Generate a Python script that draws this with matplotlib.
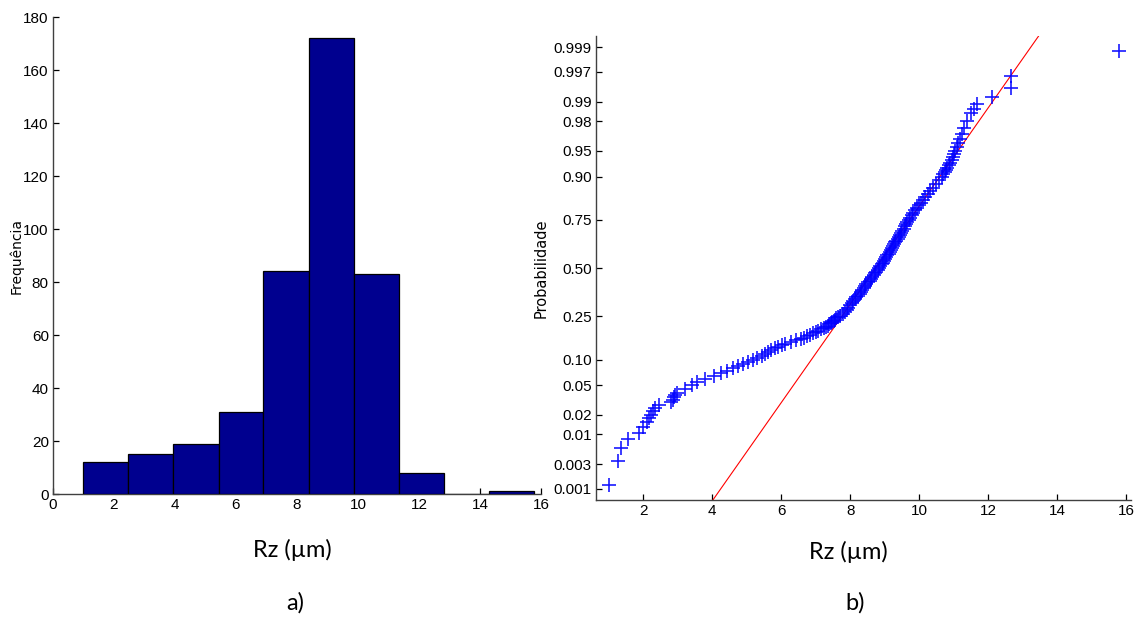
import matplotlib
matplotlib.use("Agg")
import matplotlib.pyplot as plt
import numpy as np
from statistics import NormalDist

# ---- data ----
# histogram of Rz (10 bins, MATLAB hist style)
bin_edges = [0.99, 2.47, 3.95, 5.43, 6.90, 8.38, 9.86, 11.34, 12.81, 14.29, 15.77]
bin_counts = [12, 15, 19, 31, 84, 172, 83, 8, 0, 1]

# normal probability plot: sorted Rz values and their plotting probabilities
rz_points = [
    1.01, 1.26, 1.34, 1.57, 1.88, 1.98, 2.10, 2.17, 2.23, 2.28, 2.33, 2.45,
    2.81, 2.85, 2.88, 2.92, 2.99, 3.22, 3.40, 3.56, 3.78, 4.04, 4.24, 4.42,
    4.59, 4.75, 4.90, 5.04, 5.18, 5.31, 5.43, 5.53, 5.62, 5.71, 5.81, 5.92,
    6.02, 6.12, 6.27, 6.43, 6.57, 6.66, 6.75, 6.84, 6.93, 7.01, 7.08, 7.16,
    7.23, 7.30, 7.35, 7.39, 7.44, 7.48, 7.52, 7.56, 7.60, 7.64, 7.69, 7.79,
    7.86, 7.91, 7.95, 8.00, 8.06, 8.09, 8.14, 8.18, 8.23, 8.27, 8.31, 8.35,
    8.39, 8.43, 8.47, 8.51, 8.56, 8.60, 8.64, 8.68, 8.72, 8.76, 8.80, 8.84,
    8.87, 8.91, 8.94, 8.98, 9.01, 9.05, 9.08, 9.12, 9.15, 9.18, 9.21, 9.24,
    9.28, 9.31, 9.34, 9.38, 9.41, 9.44, 9.48, 9.51, 9.55, 9.58, 9.62, 9.66,
    9.69, 9.73, 9.78, 9.83, 9.88, 9.94, 10.00, 10.06, 10.12, 10.18, 10.25, 10.32,
    10.40, 10.48, 10.56, 10.65, 10.70, 10.75, 10.78, 10.82, 10.86, 10.90, 10.94, 10.98,
    11.02, 11.05, 11.09, 11.13, 11.18, 11.24, 11.30, 11.39, 11.51, 11.59, 11.67, 12.11,
    12.65, 12.65, 15.78,
]
prob_points = [
    0.0012, 0.0035, 0.0059, 0.0082, 0.0106, 0.0129, 0.0153, 0.0176, 0.0200, 0.0224, 0.0247, 0.0271,
    0.0300, 0.0325, 0.0350, 0.0375, 0.0400, 0.0450, 0.0500, 0.0550, 0.0600, 0.0650, 0.0700, 0.0750,
    0.0800, 0.0850, 0.0900, 0.0950, 0.1000, 0.1050, 0.1100, 0.1150, 0.1200, 0.1250, 0.1300, 0.1350,
    0.1400, 0.1450, 0.1500, 0.1550, 0.1600, 0.1650, 0.1700, 0.1750, 0.1800, 0.1850, 0.1900, 0.1950,
    0.2000, 0.2050, 0.2100, 0.2150, 0.2200, 0.2250, 0.2300, 0.2350, 0.2400, 0.2450, 0.2500, 0.2600,
    0.2700, 0.2800, 0.2900, 0.3000, 0.3100, 0.3200, 0.3300, 0.3400, 0.3500, 0.3600, 0.3700, 0.3800,
    0.3900, 0.4000, 0.4100, 0.4200, 0.4300, 0.4400, 0.4500, 0.4600, 0.4700, 0.4800, 0.4900, 0.5000,
    0.5100, 0.5200, 0.5300, 0.5400, 0.5500, 0.5600, 0.5700, 0.5800, 0.5900, 0.6000, 0.6100, 0.6200,
    0.6300, 0.6400, 0.6500, 0.6600, 0.6700, 0.6800, 0.6900, 0.7000, 0.7100, 0.7200, 0.7300, 0.7400,
    0.7500, 0.7600, 0.7700, 0.7800, 0.7900, 0.8000, 0.8100, 0.8200, 0.8300, 0.8400, 0.8500, 0.8600,
    0.8700, 0.8800, 0.8900, 0.9000, 0.9050, 0.9100, 0.9150, 0.9200, 0.9250, 0.9300, 0.9350, 0.9400,
    0.9450, 0.9500, 0.9550, 0.9600, 0.9650, 0.9700, 0.9750, 0.9800, 0.9850, 0.9871, 0.9894, 0.9918,
    0.9941, 0.9965, 0.9988,
]

# reference line of the normal fit, through its quartiles
fit_x = [7.76, 9.72]
fit_p = [0.25, 0.75]

prob_ticks = [0.001, 0.003, 0.01, 0.02, 0.05, 0.10, 0.25, 0.50, 0.75, 0.90, 0.95, 0.98, 0.99, 0.997, 0.999]
prob_labels = ["0.001", "0.003", "0.01", "0.02", "0.05", "0.10", "0.25", "0.50", "0.75",
               "0.90", "0.95", "0.98", "0.99", "0.997", "0.999"]

# ---- normal probability scale ----
_nd = NormalDist()
_ppf = np.vectorize(lambda p: _nd.inv_cdf(min(max(p, 1e-12), 1 - 1e-12)), otypes=[float])
_cdf = np.vectorize(_nd.cdf, otypes=[float])


def to_z(p):
    return _ppf(np.asarray(p, dtype=float))


def from_z(z):
    return _cdf(np.asarray(z, dtype=float))


plt.rcParams["font.family"] = ["Liberation Sans Narrow", "Liberation Sans", "DejaVu Sans"]
label_font = ["Lato", "DejaVu Sans"]
axis_grey = "#404040"

fig = plt.figure(figsize=(11.37, 6.19), dpi=100)

# ---- a) histogram ----
ax1 = fig.add_axes([0.0466, 0.2019, 0.4292, 0.7706])
ax1.bar(bin_edges[:-1], bin_counts, width=np.diff(bin_edges), align="edge",
        color="#00008F", edgecolor="black", linewidth=0.9, zorder=3)
ax1.set_xlim(0, 16)
ax1.set_ylim(0, 180)
ax1.set_xticks(range(0, 17, 2))
ax1.set_yticks(range(0, 181, 20))
ax1.set_ylabel("Frequência", fontsize=10, family=["DejaVu Sans"])
ax1.yaxis.set_label_coords(-0.06, 0.5)

# ---- b) normal probability plot ----
ax2 = fig.add_axes([0.5242, 0.1922, 0.4705, 0.7496])
ax2.set_yscale("function", functions=(to_z, from_z))
ax2.axline((fit_x[0], fit_p[0]), (fit_x[1], fit_p[1]), color="red", linewidth=0.8, zorder=2)
ax2.plot(rz_points, prob_points, linestyle="none", marker="+", color="blue",
         markersize=10, markeredgewidth=1.2, alpha=0.9, zorder=3)
ax2.set_xlim(0.63, 16.14)
ax2.set_ylim(from_z(-3.25), from_z(3.25))
ax2.set_xticks(range(2, 17, 2))
ax2.set_yticks(prob_ticks)
ax2.set_yticklabels(prob_labels)
ax2.yaxis.set_minor_locator(matplotlib.ticker.NullLocator())
ax2.set_ylabel("Probabilidade", fontsize=10.5, family=["DejaVu Sans"])
ax2.yaxis.set_label_coords(-0.088, 0.5)

for ax in (ax1, ax2):
    ax.spines["top"].set_visible(False)
    ax.spines["right"].set_visible(False)
    for s in ("left", "bottom"):
        ax.spines[s].set_color(axis_grey)
        ax.spines[s].set_linewidth(1.0)
    ax.tick_params(direction="in", length=4, width=0.9, color="black", pad=3,
                   labelsize=11)

fig.text(0.257, 0.112, "Rz (µm)", ha="center", va="center", fontsize=17, family=label_font)
fig.text(0.260, 0.026, "a)", ha="center", va="center", fontsize=17, family=label_font)
fig.text(0.746, 0.108, "Rz (µm)", ha="center", va="center", fontsize=17, family=label_font)
fig.text(0.752, 0.026, "b)", ha="center", va="center", fontsize=17, family=label_font)

fig.savefig("out.png", dpi=100)
